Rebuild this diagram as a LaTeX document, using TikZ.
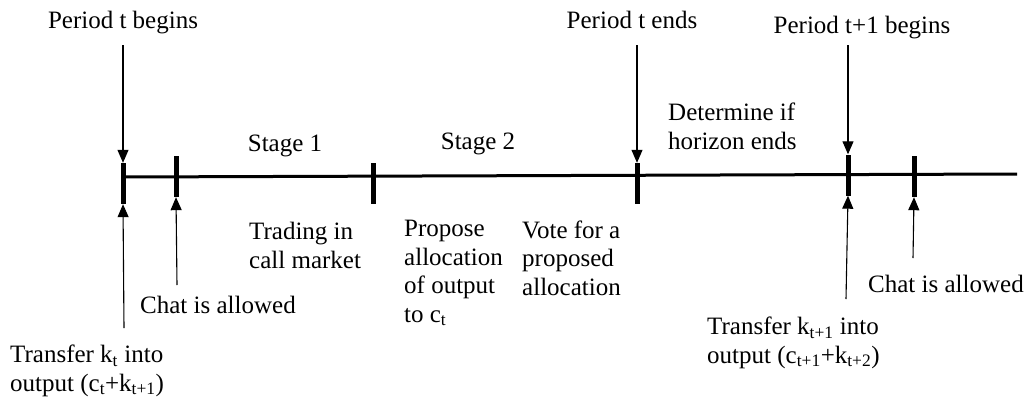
\documentclass[tikz,border=0pt]{standalone}
\usepackage{fontspec}
\setmainfont{Liberation Serif}
\usetikzlibrary{arrows.meta,positioning}

\begin{document}
\begin{tikzpicture}[x=1pt,y=-1pt,
    every node/.style={font=\fontsize{25}{28.5}\selectfont,inner sep=0pt},
    tick/.style={fill=black,minimum width=5pt,minimum height=41pt},
    label/.style={anchor=base west,align=left},
    arr/.style={line width=1.1pt,-{Triangle[length=13pt,width=11pt]}}]

    \useasboundingbox (0,0) rectangle (1030,399);

    \coordinate (START) at (123,177);
    \coordinate (END) at (1017,174);
    \draw[line width=3pt] (START) -- (END);

    \foreach \x/\y [count=\i] in {123/183.5,176/176.5,373/183.5,637/183.5,848/175,914/176.5}
      \node[tick] (TICK\i) at (\x,\y) {};

    \node[anchor=base] (PBEGIN) at (123,28) {Period t begins};
    \node[anchor=base] (PEND) at (632,28) {Period t ends};
    \node[anchor=base] (PNEXT) at (862,33) {Period t+1 begins};

    \node[anchor=base] (STAGEA) at (285,151) {Stage 1};
    \node[anchor=base] (STAGEB) at (478,149) {Stage 2};
    % multi-line labels sit on the baseline of their last line
    \node[label] (HORIZON) at (668,149) {Determine if\\horizon ends};

    \node[label] (TRADE) at (249,268) {Trading in\\call market};
    \node[label] (PROPOSE) at (404,322) {Propose\\allocation\\of output\\to c\textsubscript{t}};
    \node[label] (VOTE) at (522,295) {Vote for a\\proposed\\allocation};

    \node[label] (CHATA) at (140,313) {Chat is allowed};
    \node[label] (CHATB) at (868,292) {Chat is allowed};
    \node[label] (TRANSA) at (10,391) {Transfer k\textsubscript{t} into\\output (c\textsubscript{t}+k\textsubscript{t+1})};
    \node[label] (TRANSB) at (707,363) {Transfer k\textsubscript{t+1} into\\output (c\textsubscript{t+1}+k\textsubscript{t+2})};

    % free ends of the arrows
    \coordinate (TAIL1) at (123,45);
    \coordinate (TAIL2) at (124,328);
    \coordinate (TAIL3) at (177,285);
    \coordinate (TAIL4) at (637,45);
    \coordinate (TAIL5) at (848,45);
    \coordinate (TAIL6) at (846,299);
    \coordinate (TAIL7) at (913,258);

    \draw[arr] (TAIL1) -- (TICK1.north);
    \draw[arr] (TAIL2) -- (TICK1.south);
    \draw[arr] (TAIL3) -- (TICK2.south);
    \draw[arr] (TAIL4) -- (TICK4.north);
    \draw[arr] (TAIL5) -- (TICK5.north);
    \draw[arr] (TAIL6) -- (TICK5.south);
    \draw[arr] (TAIL7) -- (TICK6.south);

\end{tikzpicture}
\end{document}
